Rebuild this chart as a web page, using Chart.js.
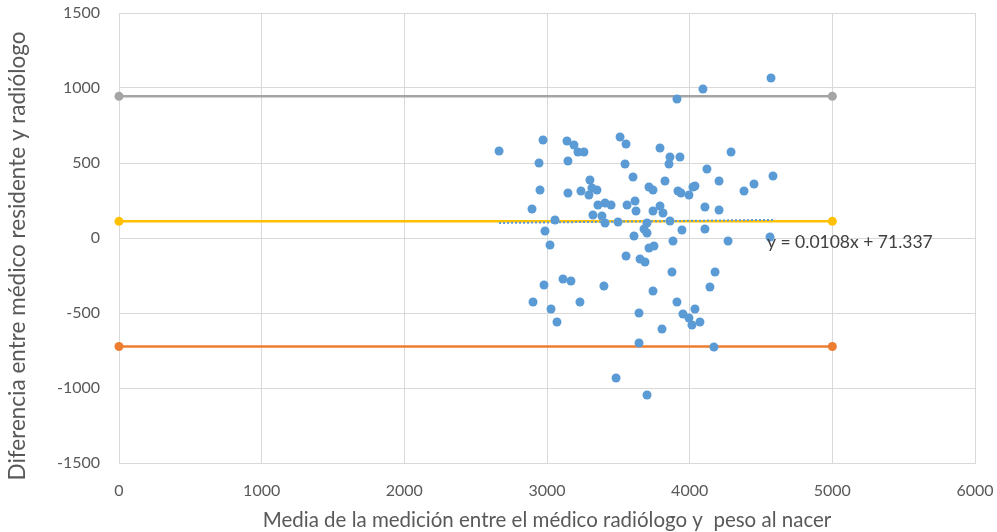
<!DOCTYPE html>
<html>
<head>
<meta charset="utf-8">
<script src="https://cdn.jsdelivr.net/npm/chart.js@4/dist/chart.umd.min.js"></script>
<style>
  html, body { margin: 0; padding: 0; background: #ffffff; }
  #wrap { width: 997px; height: 532px; }
</style>
</head>
<body>
<div id="wrap"><canvas id="c" width="997" height="532"></canvas></div>
<script>
// Mean of both measurements (x) and their difference (y)
const meanValues = [
  2664, 2895, 2902, 2944, 2951, 2972, 2979, 2986, 3021, 3028,
  3056, 3070, 3112, 3140, 3147, 3147, 3168, 3189, 3217, 3231,
  3238, 3259, 3294, 3301, 3315, 3322, 3350, 3357, 3385, 3399,
  3407, 3407, 3449, 3484, 3498, 3512, 3547, 3554, 3554, 3561,
  3603, 3610, 3617, 3624, 3645, 3645, 3652, 3680, 3687, 3701,
  3701, 3701, 3715, 3743, 3715, 3750, 3743, 3792, 3813, 3743,
  3792, 3806, 3827, 3855, 3862, 3862, 3876, 3883, 3911, 3911,
  3918, 3932, 3939, 3946, 3953, 3995, 3995, 4016, 4023, 4037,
  4037, 4072, 4093, 4107, 4107, 4121, 4142, 4170, 4178, 4206,
  4206, 4269, 4290, 4381, 4451, 4563, 4570, 4584
];
const diffValues = [
  580, 193, -427, 500, 320, 653, -313, 47, -47, -473,
  120, -560, -273, 647, 513, 300, -287, 620, 573, -427,
  313, 573, 287, 387, 333, 153, 320, 220, 147, -320,
  233, 100, 220, -933, 107, 673, 493, 627, -120, 220,
  407, 13, 247, 180, -500, -700, -140, 60, -160, 100,
  33, -1047, 340, 320, -67, -53, 180, 213, 167, -353,
  600, -607, 380, 493, 540, 113, -227, -20, 927, -427,
  313, 540, 300, 53, -507, 287, -533, -580, 340, 347,
  -473, -560, 993, 207, 60, 460, -327, -727, -227, 380,
  187, -20, 573, 313, 360, 7, 1067, 413
];

// Agreement limits: upper limit, mean difference, lower limit
const limitNames = ['Límite superior', 'Media', 'Límite inferior'];
const limitValues = [945, 111, -723];
const limitSpan = [0, 5000];

// Linear trend of the differences
const trendSlope = 0.0108;
const trendIntercept = 71.337;
const trendLabel = 'y = 0.0108x + 71.337';

const xTicks = [0, 1000, 2000, 3000, 4000, 5000, 6000];
const yTicks = [-1500, -1000, -500, 0, 500, 1000, 1500];
const xTitle = 'Media de la medición entre el médico radiólogo y  peso al nacer';
const yTitle = 'Diferencia entre médico residente y radiólogo';

const FONT = 'Lato, "Liberation Sans Narrow", "Liberation Sans", sans-serif';
const limitColors = ['#a5a5a5', '#ffc000', '#ed7d31'];

const points = meanValues.map((x, i) => ({ x: x, y: diffValues[i] }));
const xMin = Math.min(...meanValues);
const xMax = Math.max(...meanValues);
const trendPoints = [xMin, xMax].map(x => ({ x: x, y: trendSlope * x + trendIntercept }));

const datasets = [];
datasets.push({
  type: 'line',
  label: 'Tendencia',
  data: trendPoints,
  borderColor: '#5b9bd5',
  borderWidth: 2,
  borderDash: [2, 2],
  pointRadius: 0,
  fill: false,
  order: 0
});
datasets.push({
  type: 'scatter',
  label: 'Diferencia',
  data: points,
  backgroundColor: '#5b9bd5',
  borderColor: '#5b9bd5',
  borderWidth: 0,
  pointRadius: 4.5,
  order: 1
});
limitValues.forEach((v, i) => {
  datasets.push({
    type: 'line',
    label: limitNames[i],
    data: limitSpan.map(x => ({ x: x, y: v })),
    borderColor: limitColors[i],
    backgroundColor: limitColors[i],
    borderWidth: 2.5,
    pointRadius: 4.5,
    pointBorderWidth: 0,
    fill: false,
    clip: false,
    order: 2
  });
});

// Trend equation and axis titles
const textPlugin = {
  id: 'textPlugin',
  afterDraw(chart) {
    const ctx = chart.ctx;
    const xs = chart.scales.x, ys = chart.scales.y;
    ctx.save();
    ctx.fillStyle = '#404040';
    ctx.font = '17.5px ' + FONT;
    ctx.textAlign = 'left';
    ctx.textBaseline = 'middle';
    ctx.fillText(trendLabel, xs.getPixelForValue(4542), ys.getPixelForValue(-27));

    ctx.fillStyle = '#595959';
    ctx.font = '20.5px ' + FONT;
    ctx.textAlign = 'center';
    ctx.fillText(xTitle, (chart.chartArea.left + chart.chartArea.right) / 2, 520);

    ctx.font = '22.5px ' + FONT;
    ctx.translate(18, 256);
    ctx.rotate(-Math.PI / 2);
    ctx.fillText(yTitle, 0, 0);
    ctx.restore();
  }
};

// keep the plot area fixed: no extra room reserved for overhanging labels
function noOverhang(scale) {
  scale.paddingLeft = 0;
  scale.paddingRight = 0;
  scale.paddingTop = 0;
  scale.paddingBottom = 0;
}

new Chart(document.getElementById('c'), {
  data: { datasets: datasets },
  options: {
    responsive: false,
    animation: false,
    devicePixelRatio: 1,
    layout: { padding: { left: 0, right: 22, top: 13, bottom: 0 } },
    plugins: { legend: { display: false }, tooltip: { enabled: false } },
    scales: {
      x: {
        type: 'linear',
        min: 0, max: 6000,
        afterBuildTicks(scale) { scale.ticks = xTicks.map(v => ({ value: v })); },
        afterFit(scale) { scale.height = 69; noOverhang(scale); },
        grid: { color: '#d9d9d9', lineWidth: 1, drawTicks: false },
        border: { color: '#d9d9d9', width: 1 },
        ticks: {
          color: '#595959', font: { family: FONT, size: 16 }, padding: 18, maxRotation: 0,
          callback: v => String(v)
        }
      },
      y: {
        type: 'linear',
        min: -1500, max: 1500,
        afterBuildTicks(scale) { scale.ticks = yTicks.map(v => ({ value: v })); },
        afterFit(scale) { scale.width = 119; noOverhang(scale); },
        grid: { color: '#d9d9d9', lineWidth: 1, drawTicks: false },
        border: { color: '#d9d9d9', width: 1 },
        ticks: {
          color: '#595959', font: { family: FONT, size: 16 }, padding: 19,
          callback: v => String(v)
        }
      }
    }
  },
  plugins: [textPlugin]
});
</script>
</body>
</html>
